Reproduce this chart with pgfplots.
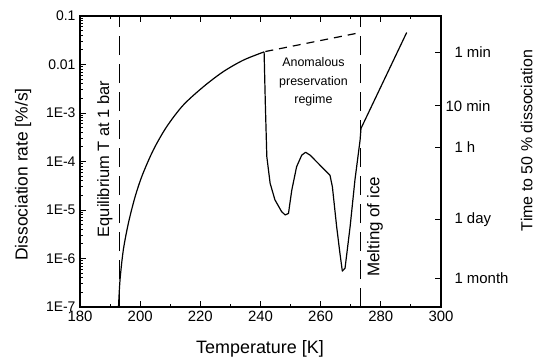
\documentclass[border=0pt]{standalone}
\usepackage{pgfplots}
\pgfplotsset{compat=1.18}
\usepackage{fontspec}
\setmainfont{Liberation Sans}
\usetikzlibrary{calc}
\begin{document}
\begin{tikzpicture}
\begin{axis}[
  name=ax,
  scale only axis, width=361bp, height=291bp,
  xmin=180, xmax=300, ymin=1e-7, ymax=0.1, ymode=log,
  xtick={180,200,...,300}, minor xtick={190,210,...,290},
  ytick={1e-7,1e-6,1e-5,1e-4,1e-3,1e-2,1e-1},
  yticklabels={1E-7,1E-6,1E-5,1E-4,1E-3,0.01,0.1},
  minor ytick={2e-7,3e-7,4e-7,5e-7,6e-7,7e-7,8e-7,9e-7,
               2e-6,3e-6,4e-6,5e-6,6e-6,7e-6,8e-6,9e-6,
               2e-5,3e-5,4e-5,5e-5,6e-5,7e-5,8e-5,9e-5,
               2e-4,3e-4,4e-4,5e-4,6e-4,7e-4,8e-4,9e-4,
               2e-3,3e-3,4e-3,5e-3,6e-3,7e-3,8e-3,9e-3,
               2e-2,3e-2,4e-2,5e-2,6e-2,7e-2,8e-2,9e-2},
  ytick pos=left, xtick pos=both,
  tick align=inside,
  major tick length=6bp, minor tick length=3bp,
  axis line style={line width=1.1bp},
  every tick/.style={line width=0.9bp, black},
  /pgf/number format/assume math mode=true,
  xticklabel style={font=\fontsize{15}{17}\selectfont, yshift=-1bp},
  yticklabel style={font=\fontsize{14}{16}\selectfont, xshift=-1bp},
  clip=false,
]
% main curve: rising branch
\addplot[black, line width=1.2bp, smooth, tension=0.5] coordinates {
(192.8,1e-7) (193.3,3.6e-7) (194.4,1.5e-6) (196.1,5.4e-6) (198.3,1.86e-5)
(200.7,5.2e-5) (204.4,1.74e-4) (208.8,5.2e-4) (214.3,1.45e-3) (221.0,3.47e-3)
(227.6,7.1e-3) (234.3,1.23e-2) (241.2,1.82e-2)
};
% anomalous preservation branch
\addplot[black, line width=1.2bp, line join=round] coordinates {
(241.2,1.82e-2) (241.6,1.6e-3) (242.1,1.26e-4) (243.2,3.55e-5) (244.8,1.62e-5)
(247.0,9.3e-6) (248.2,7.9e-6) (249.3,8.5e-6) (250.4,2.57e-5) (252.0,7.8e-5)
(253.7,1.35e-4) (255.0,1.55e-4) (256.5,1.35e-4) (263.1,5.2e-5) (263.9,3.0e-5)
(265.3,4.6e-6) (266.4,1.29e-6) (267.2,5.5e-7) (268.1,6.3e-7) (269.8,4.6e-6)
(271.4,4.2e-5) (273.1,2.75e-4) (273.4,4.8e-4) (288.6,4.57e-2)
};
% dashed extrapolation
\addplot[black, line width=1.2bp, dash pattern=on 8bp off 6bp] coordinates {
(241.6,1.85e-2) (272.4,4.45e-2)
};
% vertical dashed lines
\addplot[black, line width=1.1bp, dash pattern=on 19bp off 9bp] coordinates {
(193,1e-7) (193,0.1)
};
\addplot[black, line width=1.1bp, dash pattern=on 19bp off 9bp] coordinates {
(273.3,1e-7) (273.3,0.1)
};
\node[rotate=90, font=\fontsize{16.5}{18}\selectfont] at (axis cs:188.3,1.12e-4) {Equilibrium T at 1 bar};
\node[rotate=90, font=\fontsize{17}{19}\selectfont] at (axis cs:278.1,4.5e-6) {Melting of ice};
\node[align=center, font=\fontsize{12.5}{18.5}\selectfont] at (axis cs:257.6,4.36e-3) {Anomalous\\preservation\\regime};
\end{axis}
\begin{axis}[
  scale only axis, width=361bp, height=291bp,
  xmin=180, xmax=300, ymin=1e-7, ymax=0.1, ymode=log,
  hide x axis,
  axis y line*=right,
  ytick={3.89e-7,6.46e-6,1.95e-4,1.413e-3,1.811e-2},
  yticklabels={1 month,1 day,1 h,\hspace*{-9bp}10 min,1 min},
  minor ytick={},
  tick align=inside,
  major tick length=6bp,
  axis line style={line width=1.1bp},
  every tick/.style={line width=0.9bp, black},
  yticklabel style={font=\fontsize{15}{17}\selectfont, xshift=10bp, anchor=west},
]
\end{axis}
\node[rotate=90, font=\fontsize{17.5}{19}\selectfont] at ($(ax.south west)+(-57bp,132.5bp)$) {Dissociation rate [\%/s]};
\node[anchor=base, font=\fontsize{18}{20}\selectfont] at ($(ax.south west)+(180bp,-46bp)$) {Temperature [K]};
\node[rotate=90, font=\fontsize{16}{18}\selectfont] at ($(ax.south west)+(446.7bp,166.5bp)$) {Time to 50 \% dissociation};
\pgfresetboundingbox
\path[use as bounding box] ($(ax.south west)+(-80bp,-51bp)$) rectangle ($(ax.south west)+(455bp,307bp)$);
\end{tikzpicture}
\end{document}
